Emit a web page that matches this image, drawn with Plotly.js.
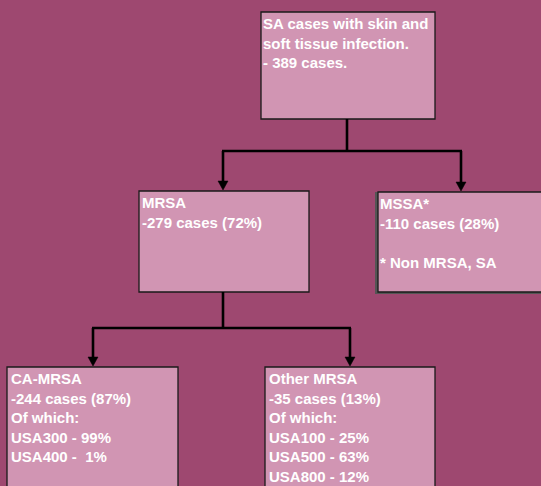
<!DOCTYPE html>
<html>
<head>
<meta charset="utf-8">
<script src="https://cdn.plot.ly/plotly-3.0.1.min.js"></script>
<style>html,body{margin:0;padding:0;background:#9E4870;}</style>
</head>
<body>
<div id="chart" style="width:541px;height:486px;"></div>
<script>
// Node labels (content)
var nodeIds = ["top", "mrsa", "mssa", "ca", "other"];
var topLines = ["SA cases with skin and", "soft tissue infection.", "- 389 cases."];
var mrsaLines = ["MRSA", "-279 cases (72%)"];
var mssaLines = ["MSSA*", "-110 cases (28%)", "", "* Non MRSA, SA"];
var caLines = ["CA-MRSA", "-244 cases (87%)", "Of which:", "USA300 - 99%", "USA400 -\u00a0 1%"];
var otherLines = ["Other MRSA", "-35 cases (13%)", "Of which:", "USA100 - 25%", "USA500 - 63%", "USA800 - 12%"];
// Tree links: parent -> children
var links = [["top", ["mrsa", "mssa"]], ["mrsa", ["ca", "other"]]];

// Layout geometry (pixels, y downward)
var boxes = {
  top:   {x0: 261, x1: 435, y0: 12,  y1: 119, stem: 347, tx: 0, lines: topLines},
  mrsa:  {x0: 139, x1: 309, y0: 191, y1: 292, stem: 223, tx: 1, lines: mrsaLines},
  mssa:  {x0: 376, x1: 545, y0: 192, y1: 293, stem: 461, tx: 2, lines: mssaLines, shadow: true},
  ca:    {x0: 7,   x1: 178, y0: 367, y1: 495, stem: 93,  tx: 2, lines: caLines},
  other: {x0: 265, x1: 435, y0: 367, y1: 495, stem: 350, tx: 2, lines: otherLines}
};
var busY = {top: 151, mrsa: 328};

var BG = "#9E4870", FILL = "#D195B3", EDGE = "#1a1a1a";
var shapes = [], annotations = [];

nodeIds.forEach(function (id) {
  var b = boxes[id];
  if (b.shadow) {
    shapes.push({type: "rect", xref: "x", yref: "y", x0: b.x0 - 1, x1: b.x1, y0: b.y0, y1: b.y1 + 1,
      line: {width: 0}, fillcolor: "#555555", layer: "above"});
  }
  shapes.push({type: "rect", xref: "x", yref: "y", x0: b.x0 + (b.shadow ? 2 : 0), x1: b.x1, y0: b.y0, y1: b.y1 - (b.shadow ? 1 : 0),
    line: {color: EDGE, width: 1.3}, fillcolor: FILL, layer: "above"});
  annotations.push({xref: "x", yref: "y", x: b.x0 + b.tx, y: b.y0 + 1,
    xanchor: "left", yanchor: "top", align: "left", showarrow: false,
    text: b.lines.join("<br>"),
    font: {family: "Liberation Sans, Arial, sans-serif", size: 15, color: "#FFFFFF", weight: "bold"}});
});

links.forEach(function (l) {
  var p = boxes[l[0]], y = busY[l[0]];
  var xs = l[1].map(function (c) { return boxes[c].stem; });
  shapes.push({type: "line", xref: "x", yref: "y", x0: p.stem, x1: p.stem, y0: p.y1, y1: y, line: {color: "#000", width: 2.6}, layer: "above"});
  shapes.push({type: "line", xref: "x", yref: "y", x0: Math.min.apply(null, xs) - 1, x1: Math.max.apply(null, xs) + 1, y0: y, y1: y, line: {color: "#000", width: 2.6}, layer: "above"});
  l[1].forEach(function (c) {
    var cb = boxes[c], tip = cb.y0 - 1;
    shapes.push({type: "line", xref: "x", yref: "y", x0: cb.stem, x1: cb.stem, y0: y, y1: tip - 8, line: {color: "#000", width: 2.6}, layer: "above"});
    shapes.push({type: "path", xref: "x", yref: "y",
      path: "M " + (cb.stem - 5) + " " + (tip - 9) + " L " + (cb.stem + 5) + " " + (tip - 9) + " L " + cb.stem + " " + tip + " Z",
      fillcolor: "#000", line: {color: "#000", width: 0.5}, layer: "above"});
  });
});

var layout = {
  width: 541, height: 486,
  margin: {l: 0, r: 0, t: 0, b: 0},
  paper_bgcolor: BG, plot_bgcolor: BG,
  xaxis: {range: [0, 541], visible: false, fixedrange: true},
  yaxis: {range: [486, 0], visible: false, fixedrange: true},
  showlegend: false,
  shapes: shapes,
  annotations: annotations
};
Plotly.newPlot("chart", [{x: [], y: [], type: "scatter"}], layout, {staticPlot: true, displayModeBar: false});
</script>
</body>
</html>
